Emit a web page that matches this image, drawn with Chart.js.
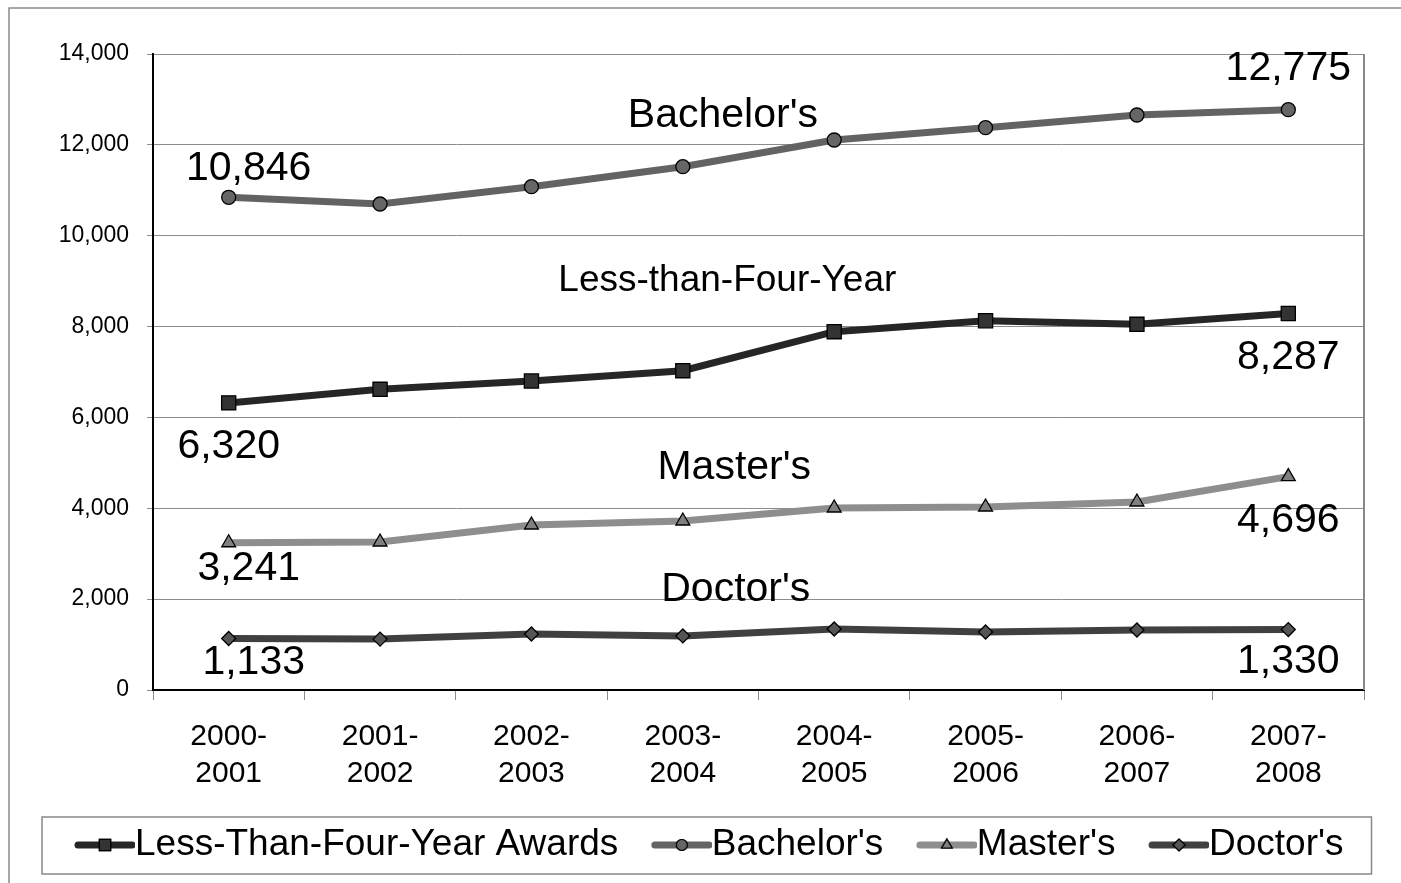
<!DOCTYPE html>
<html>
<head>
<meta charset="utf-8">
<title>Awards by level, 2000-2008</title>
<script src="https://cdn.jsdelivr.net/npm/chart.js@4.4.1/dist/chart.umd.min.js"></script>
<style>
  html, body { margin: 0; padding: 0; background: #fff; }
  #wrap { width: 1401px; height: 883px; }
</style>
</head>
<body>
<div id="wrap"><canvas id="awardsChart" width="1401" height="883"></canvas></div>
<script>
// Academic years on the x axis (two lines each)
const years = [
    ["2000-", "2001"], ["2001-", "2002"], ["2002-", "2003"], ["2003-", "2004"],
    ["2004-", "2005"], ["2005-", "2006"], ["2006-", "2007"], ["2007-", "2008"]
];

const seriesNames = ["Less-Than-Four-Year Awards", "Bachelor's", "Master's", "Doctor's"];
// short names written next to each line inside the plot
const seriesTags = ["Less-than-Four-Year", "Bachelor's", "Master's", "Doctor's"];

const lessThanFour = [6320, 6619, 6802, 7029, 7888, 8129, 8049, 8287];
const bachelors = [10846, 10698, 11079, 11519, 12107, 12378, 12657, 12775];
const masters = [3241, 3258, 3632, 3720, 4006, 4028, 4138, 4696];
const doctors = [1133, 1120, 1233, 1190, 1343, 1277, 1321, 1330];

const yTicks = [0, 2000, 4000, 6000, 8000, 10000, 12000, 14000];

const FONT = "'Liberation Sans', Arial, sans-serif";

// Where the tags and the first/last value labels sit
const tagSpots = [
    { at: 3.294, value: 9003, size: 37 },
    { at: 3.265, value: 12635, size: 41 },
    { at: 3.34, value: 4887, size: 41 },
    { at: 3.35, value: 2201, size: 41 }
];
const endLabelOffsets = [
    { first: [0, 44], last: [0, 44] },
    { first: [20, -29], last: [0, -41] },
    { first: [20, 26], last: [0, 44] },
    { first: [25, 24], last: [0, 32] }
];

const styles = [
    { line: "#262626", fill: "#333333", point: "rect", radius: 10, legendRadius: 8 },
    { line: "#636363", fill: "#666666", point: "circle", radius: 7, legendRadius: 5.5 },
    { line: "#8e8e8e", fill: "#808080", point: "triangle", radius: 8, legendRadius: 6 },
    { line: "#404040", fill: "#555555", point: "rectRot", radius: 7, legendRadius: 6 }
];

// Legend icon: short thick line with the marker in the middle
function makeLegendIcon(st) {
    const c = document.createElement("canvas");
    c.width = 102;
    c.height = 24;
    const g = c.getContext("2d");
    g.strokeStyle = st.line;
    g.lineWidth = 7;
    g.lineCap = "round";
    g.beginPath();
    g.moveTo(45, 12);
    g.lineTo(99, 12);
    g.stroke();
    g.fillStyle = st.fill;
    g.strokeStyle = "#000";
    g.lineWidth = 1.2;
    Chart.helpers.drawPoint(g, { pointStyle: st.point, radius: st.legendRadius, rotation: 0, borderWidth: 1.2 }, 72, 12);
    g.fill();
    g.stroke();
    return c;
}
const legendIcons = styles.map(makeLegendIcon);

// Outer frame, right border of the plot, box round the legend
const framePlugin = {
    id: "frame",
    beforeDraw(chart) {
        const ctx = chart.ctx;
        ctx.save();
        ctx.strokeStyle = "#8a8a8a";
        ctx.lineWidth = 1.5;
        ctx.beginPath();
        ctx.moveTo(9, chart.height);
        ctx.lineTo(9, 8);
        ctx.lineTo(chart.width, 8);
        ctx.stroke();
        ctx.restore();
    },
    afterDraw(chart) {
        const ctx = chart.ctx;
        const area = chart.chartArea;
        const lg = chart.legend;
        ctx.save();
        ctx.strokeStyle = "#888";
        ctx.lineWidth = 2;
        ctx.beginPath();
        ctx.moveTo(area.right, area.top);
        ctx.lineTo(area.right, area.bottom);
        ctx.stroke();
        ctx.lineWidth = 1.5;
        ctx.strokeRect(lg.left + 0.5, lg.top + 0.5, lg.width + 7, lg.height);
        ctx.restore();
    }
};

// Series names and first/last values written on the plot
const calloutPlugin = {
    id: "callouts",
    afterDatasetsDraw(chart) {
        const ctx = chart.ctx;
        const xs = chart.scales.x;
        const ys = chart.scales.y;
        ctx.save();
        ctx.fillStyle = "#000";
        ctx.textAlign = "center";
        ctx.textBaseline = "middle";
        chart.data.datasets.forEach((ds, i) => {
            const tag = tagSpots[i];
            ctx.font = tag.size + "px " + FONT;
            ctx.fillText(seriesTags[i], xs.getPixelForValue(tag.at), ys.getPixelForValue(tag.value));

            const pts = chart.getDatasetMeta(i).data;
            const n = ds.data.length - 1;
            const off = endLabelOffsets[i];
            ctx.font = "41px " + FONT;
            ctx.fillText(ds.data[0].toLocaleString("en-US"), pts[0].x + off.first[0], pts[0].y + off.first[1]);
            ctx.fillText(ds.data[n].toLocaleString("en-US"), pts[n].x + off.last[0], pts[n].y + off.last[1]);
        });
        ctx.restore();
    }
};

function makeDataset(label, values, st) {
    return {
        label: label,
        data: values,
        borderColor: st.line,
        backgroundColor: st.line,
        borderWidth: 7,
        tension: 0,
        fill: false,
        pointStyle: st.point,
        pointRadius: st.radius,
        pointBackgroundColor: st.fill,
        pointBorderColor: "#000",
        pointBorderWidth: 1.3
    };
}

const ctx = document.getElementById("awardsChart").getContext("2d");
new Chart(ctx, {
    type: "line",
    data: {
        labels: years,
        datasets: [
            makeDataset(seriesNames[0], lessThanFour, styles[0]),
            makeDataset(seriesNames[1], bachelors, styles[1]),
            makeDataset(seriesNames[2], masters, styles[2]),
            makeDataset(seriesNames[3], doctors, styles[3])
        ]
    },
    options: {
        responsive: false,
        animation: false,
        layout: {
            padding: { left: 41.5, right: 37, top: 54, bottom: 9.5 }
        },
        plugins: {
            tooltip: { enabled: false },
            legend: {
                position: "bottom",
                align: "start",
                labels: {
                    usePointStyle: true,
                    pointStyleWidth: 65,
                    padding: 10,
                    color: "#000",
                    font: { family: FONT, size: 37 },
                    generateLabels(chart) {
                        const items = Chart.defaults.plugins.legend.labels.generateLabels(chart);
                        items.forEach((it, i) => { it.pointStyle = legendIcons[i]; });
                        return items;
                    }
                }
            }
        },
        scales: {
            x: {
                offset: true,
                grid: {
                    offset: true,
                    drawOnChartArea: false,
                    tickLength: 10,
                    color: "#8c8c8c"
                },
                border: { color: "#000", width: 2 },
                ticks: {
                    color: "#000",
                    maxRotation: 0,
                    autoSkip: false,
                    padding: 18.5,
                    font: { family: FONT, size: 30, lineHeight: 1.23 }
                },
                afterFit(scale) { scale.height = 126.5; }
            },
            y: {
                min: 0,
                max: 14000,
                afterBuildTicks(scale) { scale.ticks = yTicks.map(v => ({ value: v })); },
                grid: {
                    color: "#8c8c8c",
                    tickLength: 6,
                    lineWidth: 1
                },
                border: { color: "#000", width: 2 },
                ticks: {
                    color: "#000",
                    padding: 18,
                    font: { family: FONT, size: 23 },
                    callback: v => v.toLocaleString("en-US")
                },
                afterFit(scale) { scale.width = 111.5; }
            }
        }
    },
    plugins: [framePlugin, calloutPlugin]
});
</script>
</body>
</html>
